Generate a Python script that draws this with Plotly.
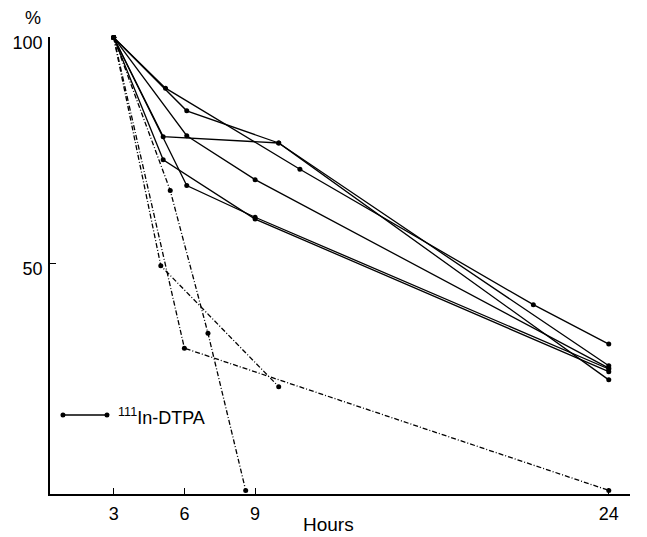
import plotly.graph_objects as go

# ---- data ----
hours_a = [3, 5.2, 10.9, 20.8, 24]
pct_a = [100, 88.8, 70.9, 41.0, 32.3]
hours_b = [3, 6.1, 10.0, 24]
pct_b = [100, 83.8, 76.7, 27.5]
hours_c = [3, 5.1, 10.0, 24]
pct_c = [100, 78.1, 76.7, 24.4]
hours_d = [3, 6.1, 9.0, 24]
pct_d = [100, 78.3, 68.6, 27.0]
hours_e = [3, 5.1, 9.0, 24]
pct_e = [100, 73.0, 59.9, 26.2]
hours_f = [3, 6.1, 9.0, 24]
pct_f = [100, 67.3, 60.3, 26.8]
hours_g = [3, 5.4, 7.0, 8.6]
pct_g = [100, 66.2, 34.7, 0]
hours_h = [3, 5.0, 10.0]
pct_h = [100, 49.6, 22.9]
hours_i = [3, 6.0, 24]
pct_i = [100, 31.4, 0]

x_ticks = [3, 6, 9, 24]
y_ticks = [50, 100]
legend_label = "<sup>111</sup>In-DTPA"

series = [
    (hours_a, pct_a, "solid"),
    (hours_b, pct_b, "solid"),
    (hours_c, pct_c, "solid"),
    (hours_d, pct_d, "solid"),
    (hours_e, pct_e, "solid"),
    (hours_f, pct_f, "solid"),
    (hours_g, pct_g, "5px,2px,1px,2px"),
    (hours_h, pct_h, "5px,2px,1px,2px"),
    (hours_i, pct_i, "5px,2px,1px,2px"),
]

FONT = "Liberation Sans, Arial, sans-serif"

fig = go.Figure()
for xs, ys, dash in series:
    fig.add_trace(go.Scatter(
        x=xs, y=ys, mode="lines+markers",
        line=dict(color="black", width=1.3, dash=dash),
        marker=dict(color="black", size=5),
        cliponaxis=False, showlegend=False, hoverinfo="skip",
    ))

# legend drawn as decoration
lx0, lx1, ly = 0.0224, 0.0983, 0.1729
fig.add_shape(type="line", xref="paper", yref="paper", x0=lx0, x1=lx1, y0=ly, y1=ly,
              line=dict(color="black", width=1.3))
for cx in (lx0, lx1):
    fig.add_shape(type="circle", xref="paper", yref="paper",
                  x0=cx - 0.0043, x1=cx + 0.0043, y0=ly - 0.0055, y1=ly + 0.0055,
                  fillcolor="black", line=dict(color="black", width=0))
fig.add_annotation(text=legend_label, xref="paper", yref="paper", x=0.1138, y=ly - 0.004,
                   xanchor="left", yanchor="middle", showarrow=False,
                   font=dict(family=FONT, size=18, color="black"))

fig.add_annotation(text="%", xref="paper", yref="paper", x=-0.0293, y=1.0416,
                   xanchor="center", yanchor="middle", showarrow=False,
                   font=dict(family=FONT, size=18, color="black"))
fig.add_annotation(text="Hours", xref="paper", yref="paper", x=0.480, y=-0.0678,
                   xanchor="center", yanchor="middle", showarrow=False,
                   font=dict(family=FONT, size=19, color="black"))

# page body adds an 8px offset; size and margins compensate for it
fig.update_layout(
    width=639, height=529,
    margin=dict(l=42, r=17, t=29, b=43, autoexpand=False),
    paper_bgcolor="white", plot_bgcolor="white",
    font=dict(family=FONT, size=18, color="black"),
    xaxis=dict(range=[0.3, 24.9], tickvals=x_ticks, ticktext=[str(v) for v in x_ticks],
               showgrid=False, zeroline=False, showline=True, linecolor="black", linewidth=1.5,
               ticks="inside", ticklen=6, tickwidth=1.3, tickcolor="black", automargin=False,
               ticklabelstandoff=3, tickfont=dict(size=18)),
    yaxis=dict(range=[-0.8, 100.1], tickvals=y_ticks, ticktext=[str(v) for v in y_ticks],
               showgrid=False, zeroline=False, showline=True, linecolor="black", linewidth=1.5,
               ticks="inside", ticklen=6, tickwidth=1.3, tickcolor="black", automargin=False,
               ticklabelstandoff=2, ticklabelshift=5, tickfont=dict(size=18)),
)

fig.write_html("out.html")
